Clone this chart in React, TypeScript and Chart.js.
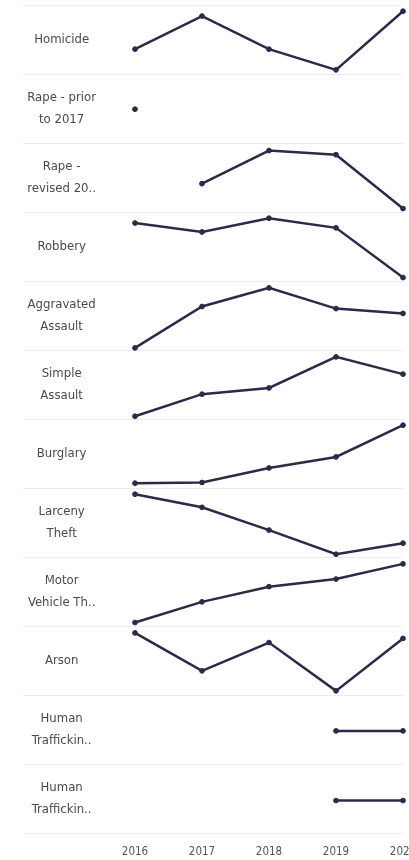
import React, { useEffect, useRef } from 'react';
import { Chart, registerables } from 'chart.js';

Chart.register(...registerables);

const years = ['2016', '2017', '2018', '2019', '2020'];

const categories: string[][] = [
  ['Homicide'],
  ['Rape - prior', 'to 2017'],
  ['Rape -', 'revised 20..'],
  ['Robbery'],
  ['Aggravated', 'Assault'],
  ['Simple', 'Assault'],
  ['Burglary'],
  ['Larceny', 'Theft'],
  ['Motor', 'Vehicle Th..'],
  ['Arson'],
  ['Human', 'Traffickin..'],
  ['Human', 'Traffickin..'],
];

// Relative position of each year's value within its own (independent) row axis, 0-100
const homicide = [36, 84, 36, 6, 91];
const rapePrior = [49, null, null, null, null];
const rapeRevised = [null, 41, 89, 83, 5];
const robbery = [84, 71, 91, 77, 5];
const aggravatedAssault = [3, 63, 90, 60, 53];
const simpleAssault = [4, 36, 45, 90, 65];
const burglary = [7, 8, 29, 45, 91];
const larcenyTheft = [91, 72, 39, 4, 20];
const motorVehicleTheft = [5, 35, 57, 68, 90];
const arson = [90, 35, 76, 6, 82];
const humanTraffickingA = [null, null, null, 48, 48];
const humanTraffickingB = [null, null, null, 47, 47];

const series = [
  homicide,
  rapePrior,
  rapeRevised,
  robbery,
  aggravatedAssault,
  simpleAssault,
  burglary,
  larcenyTheft,
  motorVehicleTheft,
  arson,
  humanTraffickingA,
  humanTraffickingB,
];

const LINE = '#2b2b48';
const FONT = '"DejaVu Sans Condensed", sans-serif';

export default function App() {
  const ref = useRef<HTMLCanvasElement | null>(null);

  useEffect(() => {
    if (!ref.current) return;
    const scales: any = {
      x: {
        type: 'category',
        labels: years,
        offset: false,
        position: 'bottom',
        grid: { display: false, drawTicks: false },
        border: { display: false },
        ticks: {
          font: { family: FONT, size: 11.5, lineHeight: 1.2 },
          color: '#555',
          padding: 12,
          maxRotation: 0,
          autoSkip: false,
        },
        afterFit: (s: any) => {
          s.paddingLeft = 0;
          s.paddingRight = 0;
          s.height = 27;
        },
      },
      labels: {
        type: 'category',
        axis: 'y',
        labels: categories,
        position: 'left',
        offset: true,
        border: { display: false },
        grid: {
          offset: true,
          color: '#ececec',
          tickColor: '#ececec',
          lineWidth: 1,
          drawTicks: true,
          tickLength: 112,
        },
        ticks: {
          crossAlign: 'center',
          padding: -73,
          color: '#4a4a4a',
          font: { family: FONT, size: 13, lineHeight: 1.75 },
          autoSkip: false,
        },
        afterFit: (s: any) => {
          s.width = 135;
        },
      },
    };
    // left-stacked axes are laid out last-defined-first, so define bottom row first
    for (let i = series.length - 1; i >= 0; i--) {
      scales['r' + i] = {
        type: 'linear',
        axis: 'y',
        display: false,
        position: 'left',
        stack: 'rows',
        stackWeight: 1,
        min: 0,
        max: 100,
      };
    }

    const chart = new Chart(ref.current, {
      type: 'line',
      data: {
        labels: years,
        datasets: series.map((d, i) => ({
          label: categories[i].join(' '),
          data: d as any,
          xAxisID: 'x',
          yAxisID: 'r' + i,
          borderColor: LINE,
          backgroundColor: LINE,
          pointBackgroundColor: LINE,
          pointBorderColor: LINE,
          borderWidth: 2.5,
          pointRadius: 2.4,
          pointBorderWidth: 1,
          tension: 0,
          spanGaps: false,
          clip: false as any,
        })),
      },
      options: {
        animation: false,
        responsive: true,
        maintainAspectRatio: false,
        layout: { padding: { top: 4, right: 6, left: 0, bottom: 0 } },
        plugins: {
          legend: { display: false },
          tooltip: { enabled: false },
        },
        scales,
      },
    });
    return () => chart.destroy();
  }, []);

  return (
    <div style={{ position: 'absolute', left: 0, top: 0, width: 409, height: 860, background: '#fff' }}>
      <canvas ref={ref} />
    </div>
  );
}
